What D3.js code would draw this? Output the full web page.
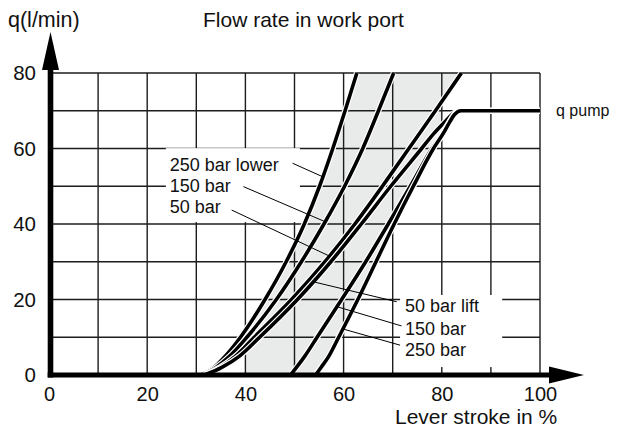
<!DOCTYPE html>
<html>
<head>
<meta charset="utf-8">
<script src="https://cdn.jsdelivr.net/npm/d3@7"></script>
<style>
  body { margin: 0; background: #fff; }
  text { font-family: "Liberation Sans", Arial, Helvetica, sans-serif; fill: #111; }
</style>
</head>
<body>
<div id="chart"></div>
<script>
// Tick values
var xTickLabels = [0, 20, 40, 60, 80, 100];
var yTickLabels = [0, 20, 40, 60, 80];
var xGridValues = [10, 20, 30, 40, 50, 60, 70, 80, 90, 100];
var yGridValues = [10, 20, 30, 40, 50, 60, 70, 80];

// Curves: [lever stroke %, flow l/min]
var lower250 = [[30.8,0],[33.6,2],[35.9,5],[39,10],[44,20],[48.3,30],[52,40],[55.1,50],[57.8,60],[60.3,70],[62.7,80]];
var lower150 = [[31,0],[34,2],[36.8,5],[40.3,10],[46.3,20],[51.4,30],[56,40],[60.2,50],[63.9,60],[67.1,70],[70.2,80]];
var lower50 = [[31.5,0],[34.8,2],[38,5],[41.8,10],[49.4,20],[56.2,30],[62.3,40],[67.9,50],[73.3,60],[78.7,70],[84,80]];
var lift50 = [[31.7,0],[35.2,2],[38.8,5],[42.9,10],[50.6,20],[57.4,30],[63.6,40],[69.6,50],[75.9,60],[78.4,64],[80.6,67],[82.1,69],[83.5,70],[100,70]];
var lift150 = [[49.2,0],[50.4,2],[52.1,5],[54.6,10],[59.6,20],[64.5,30],[69.1,40],[73.6,50],[78,60],[80.1,64],[81.5,67],[82.5,69],[83.8,70],[100,70]];
var lift250 = [[54.3,0],[55.4,2],[57,5],[59,10],[62.9,20],[66.6,30],[70.3,40],[74.2,50],[78.3,60],[80.3,64],[81.6,67],[82.6,69],[83.9,70],[100,70]];

var qPump = 70;

var curves = { lower250: lower250, lower150: lower150, lower50: lower50, lift50: lift50, lift150: lift150, lift250: lift250 };
var curveOrder = ["lower250", "lower150", "lower50", "lift50", "lift150", "lift250"];

// Labels with leader lines (data units); leader ends on the named curve at flow q
var leftLabels = [
  { text: "250 bar lower", at: [24.6, 54.1], from: [49.6, 56.1], curve: "lower250", q: 52.5 },
  { text: "150 bar", at: [24.6, 48.6], from: [39.6, 49.9], curve: "lower150", q: 40.6 },
  { text: "50 bar", at: [24.6, 43.0], from: [37.2, 43.7], curve: "lower50", q: 31.5 }
];
var rightLabels = [
  { text: "50 bar lift", at: [72.5, 16.7], from: [70.8, 19.4], curve: "lift50", q: 24.7 },
  { text: "150 bar", at: [72.5, 10.7], from: [71.8, 13.0], curve: "lift150", q: 18.1 },
  { text: "250 bar", at: [72.5, 5.0], from: [71.5, 7.9], curve: "lift250", q: 12.2 }
];

var svgWidth = 618;
var svgHeight = 429;

var svg = d3.select("#chart")
  .append("svg")
  .attr("width", svgWidth)
  .attr("height", svgHeight)
  .style("display", "block");

svg.append("rect").attr("width", svgWidth).attr("height", svgHeight).attr("fill", "#fff");

var x = d3.scaleLinear().domain([0, 100]).range([49, 540]);
var y = d3.scaleLinear().domain([0, 80]).range([375, 73]);

// p on a curve for a given flow q
function pAt(pts, q) {
  for (var i = 1; i < pts.length; i++) {
    var a = pts[i - 1], b = pts[i];
    if (q >= a[1] && q <= b[1] && b[1] > a[1]) {
      return a[0] + (q - a[1]) / (b[1] - a[1]) * (b[0] - a[0]);
    }
  }
  return pts[pts.length - 1][0];
}
// q on a curve for a given p
function qAt(pts, p) {
  for (var i = 1; i < pts.length; i++) {
    var a = pts[i - 1], b = pts[i];
    if (p >= a[0] && p <= b[0]) {
      return a[1] + (p - a[0]) / (b[0] - a[0]) * (b[1] - a[1]);
    }
  }
  return pts[pts.length - 1][1];
}

var drawLine = d3.line()
  .x(d => x(d[0]))
  .y(d => y(d[1]))
  .curve(d3.curveMonotoneX);

// grey band between the outer curves, from 40 % stroke on
var band = [[40, 0], [40, qAt(lower250, 40)]];
lower250.forEach(function(d) { if (d[0] > 40) band.push(d); });
lower50.slice().reverse().forEach(function(d) { if (d[0] > 80) band.push(d); });
band.push([80, qAt(lower50, 80)]);
band.push([80, qAt(lift250, 80)]);
lift250.slice().reverse().forEach(function(d) { if (d[0] < 80) band.push(d); });

svg.append("path")
  .attr("d", d3.line().x(d => x(d[0])).y(d => y(d[1]))(band) + "Z")
  .attr("fill", "#e9eaea");

// grid
var gridGroup = svg.append("g").attr("class", "grid");
gridGroup.selectAll(".vgrid")
  .data(xGridValues)
  .enter().append("line")
  .attr("x1", d => x(d)).attr("x2", d => x(d))
  .attr("y1", y(0)).attr("y2", y(80));
gridGroup.selectAll(".hgrid")
  .data(yGridValues)
  .enter().append("line")
  .attr("x1", x(0)).attr("x2", x(100))
  .attr("y1", d => y(d)).attr("y2", d => y(d));
gridGroup.selectAll("line")
  .attr("stroke", "#1c1c1c")
  .attr("stroke-width", 1.4);

// white boxes behind the labels
svg.append("rect")
  .attr("x", x(23.8)).attr("y", y(60.1))
  .attr("width", x(51.1) - x(23.8)).attr("height", y(40.5) - y(60.1))
  .attr("fill", "#fff");
svg.append("rect")
  .attr("x", x(71.5)).attr("y", y(21.2))
  .attr("width", x(92.3) - x(71.5)).attr("height", y(2.1) - y(21.2))
  .attr("fill", "#fff");

// curves, each with a thin white casing
curveOrder.forEach(function(key) {
  svg.append("path")
    .attr("d", drawLine(curves[key]))
    .attr("fill", "none")
    .attr("stroke", "#fff")
    .attr("stroke-width", 6);
  svg.append("path")
    .attr("d", drawLine(curves[key]))
    .attr("fill", "none")
    .attr("stroke", "#000")
    .attr("stroke-width", 3.6)
    .attr("stroke-linejoin", "round");
});

// labels and leader lines
leftLabels.concat(rightLabels).forEach(function(l) {
  var pts = curves[l.curve];
  svg.append("line")
    .attr("x1", x(l.from[0])).attr("y1", y(l.from[1]))
    .attr("x2", x(pAt(pts, l.q))).attr("y2", y(l.q))
    .attr("stroke", "#000")
    .attr("stroke-width", 1);
  svg.append("text")
    .attr("x", x(l.at[0])).attr("y", y(l.at[1]))
    .attr("font-size", 18)
    .text(l.text);
});

svg.append("text")
  .attr("x", 556).attr("y", y(qPump) + 5)
  .attr("font-size", 16)
  .text("q pump");

// axes
var axisGroup = svg.append("g");
axisGroup.append("line")
  .attr("x1", x(0) + 1.5).attr("x2", x(0) + 1.5)
  .attr("y1", y(0) + 2.4).attr("y2", 68)
  .attr("stroke", "#000").attr("stroke-width", 5.6);
axisGroup.append("path")
  .attr("d", `M${x(0) + 1.5},32 L${x(0) + 10},70 L${x(0) - 7},70 Z`)
  .attr("fill", "#000");
axisGroup.append("line")
  .attr("x1", x(0) - 1.3).attr("x2", 552)
  .attr("y1", y(0)).attr("y2", y(0))
  .attr("stroke", "#000").attr("stroke-width", 4.8);
axisGroup.append("path")
  .attr("d", `M584,${y(0)} L549,${y(0) - 8.5} L549,${y(0) + 8.5} Z`)
  .attr("fill", "#000");

// tick labels
var bottomAxis = d3.axisBottom(x).tickValues(xTickLabels).tickSize(0).tickPadding(12);
var leftAxis = d3.axisLeft(y).tickValues(yTickLabels).tickSize(0).tickPadding(13);

svg.append("g")
  .attr("transform", `translate(0, ${y(0)})`)
  .call(bottomAxis)
  .call(g => g.select(".domain").remove())
  .selectAll("text")
  .attr("font-size", 20)
  .attr("font-family", "Liberation Sans, Arial, sans-serif")
  .attr("fill", "#111");

svg.append("g")
  .attr("transform", `translate(${x(0)}, 0)`)
  .call(leftAxis)
  .call(g => g.select(".domain").remove())
  .selectAll("text")
  .attr("font-size", 20.5)
  .attr("font-family", "Liberation Sans, Arial, sans-serif")
  .attr("fill", "#111");

// titles
svg.append("text")
  .attr("x", 8).attr("y", 27)
  .attr("font-size", 21.5)
  .text("q(l/min)");

svg.append("text")
  .attr("x", 203).attr("y", 27)
  .attr("font-size", 21)
  .text("Flow rate in work port");

svg.append("text")
  .attr("x", 395).attr("y", 424.3)
  .attr("font-size", 21)
  .text("Lever stroke in %");
</script>
</body>
</html>
